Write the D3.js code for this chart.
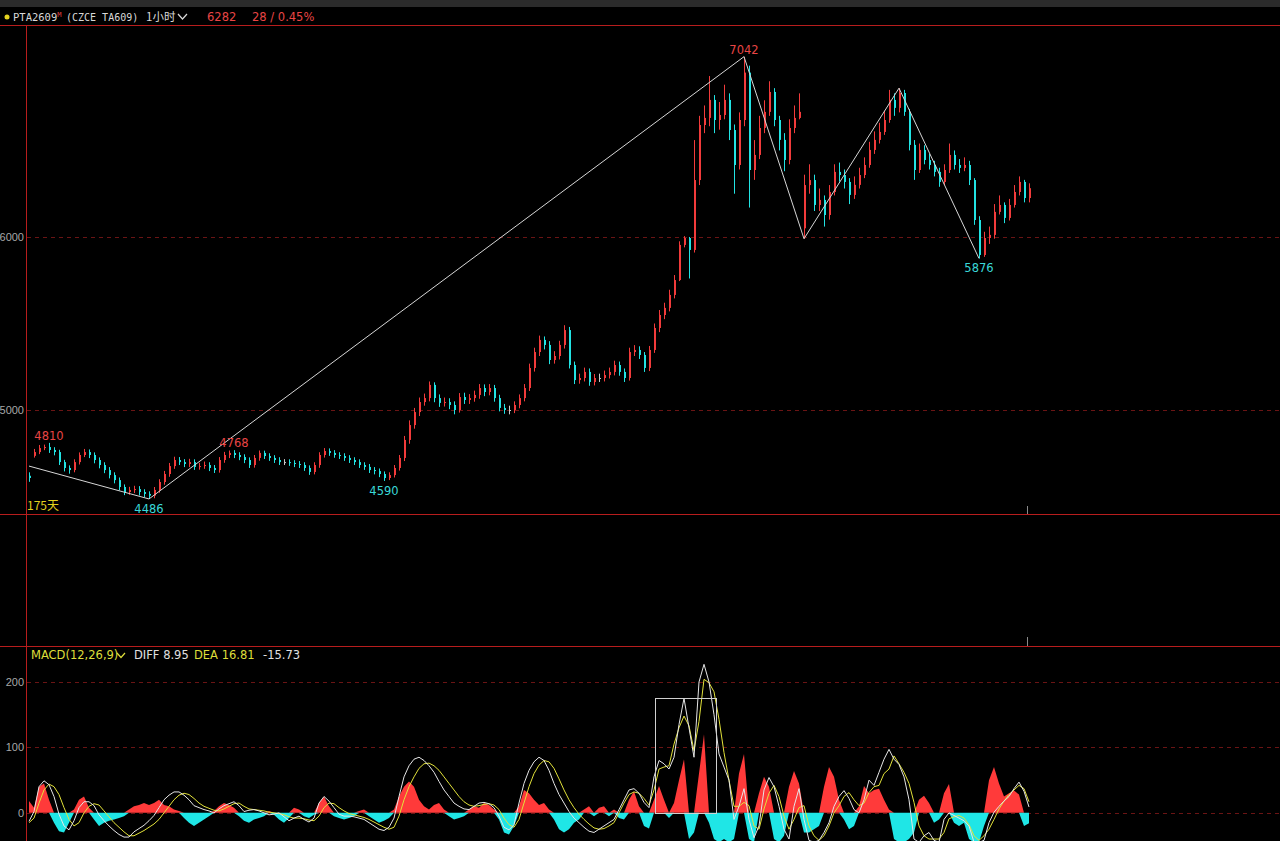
<!DOCTYPE html>
<html>
<head>
<meta charset="utf-8">
<script src="https://cdn.jsdelivr.net/npm/d3@7"></script>
<style>
html, body { margin: 0; padding: 0; background: #000; overflow: hidden; }
svg { display: block; }
</style>
</head>
<body>
<div id="chart"></div>
<script>
//hourly bars (one bar per ~5px slot)
const opens = [4620,4735,4757,4780,4786,4769,4757,4699,4665,4653,
	4699,4740,4757,4740,4711,4682,4653,4624,4595,4555,
	4526,4538,4543,4526,4515,4505,4538,4584,4630,4676,
	4711,4699,4688,4699,4671,4676,4682,4665,4653,4711,
	4740,4752,4740,4728,4711,4682,4723,4752,4734,4723,
	4711,4699,4699,4694,4688,4682,4665,4642,4682,4740,
	4763,4752,4740,4734,4723,4711,4699,4682,4671,4653,
	4647,4630,4607,4624,4665,4723,4827,4913,4988,5046,
	5069,5145,5069,5041,5046,5029,5000,5075,5058,5069,
	5087,5127,5104,5127,5069,5012,5000,5000,5029,5069,
	5127,5243,5335,5405,5376,5289,5312,5376,5462,5260,
	5173,5185,5220,5162,5185,5185,5202,5220,5260,5220,
	5185,5335,5347,5318,5243,5347,5474,5549,5590,5665,
	5751,5954,5994,5925,6329,6647,6688,6792,6676,6705,
	6792,6618,6416,6676,6950,6387,6474,6630,6723,6838,
	6676,6561,6445,6630,6688,6050,6300,6329,6185,6214,
	6127,6260,6376,6358,6318,6243,6301,6358,6416,6503,
	6561,6607,6676,6792,6746,6832,6723,6532,6387,6503,
	6445,6416,6376,6318,6387,6474,6416,6399,6416,6329,
	6098,5896,5994,6012,6145,6185,6110,6185,6260,6318,
	6225];

const highs = [4640,4775,4798,4800,4810,4785,4770,4712,4680,4715,
	4755,4775,4772,4755,4726,4698,4670,4640,4610,4570,
	4556,4562,4560,4542,4530,4555,4600,4648,4694,4730,
	4728,4716,4718,4715,4695,4702,4698,4682,4728,4758,
	4766,4768,4756,4744,4726,4740,4766,4765,4750,4739,
	4727,4716,4715,4710,4705,4698,4680,4698,4756,4780,
	4778,4768,4756,4750,4739,4727,4715,4698,4688,4670,
	4662,4645,4640,4682,4740,4850,4940,5012,5072,5095,
	5165,5160,5090,5072,5068,5050,5098,5100,5092,5112,
	5150,5148,5150,5145,5088,5035,5025,5050,5090,5150,
	5268,5360,5430,5425,5398,5340,5400,5490,5480,5280,
	5210,5245,5240,5208,5210,5228,5245,5285,5280,5240,
	5360,5375,5368,5335,5370,5500,5578,5620,5695,5780,
	5975,6005,6000,6560,6700,6760,6930,6820,6780,6880,
	6830,6650,6720,7042,6990,6560,6700,6790,6900,6860,
	6700,6600,6680,6760,6830,6360,6420,6360,6280,6240,
	6300,6420,6430,6390,6340,6350,6400,6460,6550,6610,
	6660,6730,6850,6830,6860,6850,6740,6560,6540,6530,
	6480,6440,6400,6420,6540,6500,6450,6460,6440,6340,
	6120,6030,6060,6190,6240,6200,6220,6300,6350,6330,
	6310];

const lows = [4585,4725,4745,4768,4752,4738,4682,4645,4632,4640,
	4685,4728,4722,4692,4663,4635,4605,4576,4536,4508,
	4510,4520,4506,4496,4486,4490,4522,4568,4614,4660,
	4682,4670,4670,4654,4655,4660,4647,4636,4638,4695,
	4722,4722,4710,4693,4665,4667,4707,4717,4706,4694,
	4682,4682,4677,4670,4665,4648,4625,4628,4666,4725,
	4735,4724,4717,4706,4694,4682,4665,4654,4636,4628,
	4612,4590,4595,4610,4650,4705,4805,4892,4965,5025,
	5050,5045,5018,5020,5005,4975,4985,5035,5035,5048,
	5065,5080,5085,5048,4992,4978,4975,4982,5010,5050,
	5110,5222,5312,5350,5265,5268,5292,5355,5240,5150,
	5152,5165,5140,5142,5162,5165,5182,5200,5198,5162,
	5170,5312,5295,5220,5225,5330,5450,5525,5570,5645,
	5745,5940,5760,5910,6300,6600,6640,6600,6620,6680,
	6560,6250,6390,6640,6170,6330,6450,6600,6700,6640,
	6500,6380,6420,6600,6680,5990,6250,6150,6150,6060,
	6100,6240,6320,6280,6190,6220,6280,6340,6400,6480,
	6540,6590,6660,6700,6720,6700,6500,6330,6370,6420,
	6390,6350,6290,6300,6370,6390,6370,6380,6300,6070,
	5876,5885,5960,5990,6130,6080,6095,6170,6240,6200,
	6200];

const closes = [4607,4757,4780,4786,4769,4757,4699,4665,4653,4699,
	4740,4757,4740,4711,4682,4653,4624,4595,4555,4526,
	4538,4543,4526,4515,4505,4538,4584,4630,4676,4711,
	4699,4688,4699,4671,4676,4682,4665,4653,4711,4740,
	4752,4740,4728,4711,4682,4723,4752,4734,4723,4711,
	4699,4699,4694,4688,4682,4665,4642,4682,4740,4763,
	4752,4740,4734,4723,4711,4699,4682,4671,4653,4647,
	4630,4607,4624,4665,4723,4827,4913,4988,5046,5069,
	5145,5069,5041,5046,5029,5000,5075,5058,5069,5087,
	5127,5104,5127,5069,5012,5000,5000,5029,5069,5127,
	5243,5335,5405,5376,5289,5312,5376,5462,5260,5173,
	5185,5220,5162,5185,5185,5202,5220,5260,5220,5185,
	5335,5347,5318,5243,5347,5474,5549,5590,5665,5751,
	5954,5994,5925,6329,6647,6688,6792,6676,6705,6792,
	6618,6416,6676,6950,6387,6474,6630,6723,6838,6676,
	6561,6445,6630,6688,6723,6300,6329,6185,6214,6127,
	6260,6376,6358,6318,6243,6301,6358,6416,6503,6561,
	6607,6676,6792,6746,6832,6723,6532,6387,6503,6445,
	6416,6376,6318,6387,6474,6416,6399,6416,6329,6098,
	5896,5994,6012,6145,6185,6110,6185,6260,6318,6225,
	6282];

//MACD(12,26,9) values
const macdHist = [18,8,40,45,20,-15,-28,-30,-15,5,
	20,25,8,-10,-20,-15,-12,-10,-8,-5,
	5,10,12,15,12,15,20,12,10,5,
	3,-8,-15,-20,-15,-10,-5,3,10,15,
	12,8,-5,-12,-15,-10,-8,-5,3,-3,
	-10,-15,-8,8,5,-5,-8,-3,15,25,
	10,-5,-8,-10,-8,-5,3,5,-5,-10,
	-15,-12,-8,5,25,40,48,40,20,10,
	5,12,15,5,-5,-10,-8,-5,5,10,
	8,15,12,5,-10,-30,-33,-20,10,35,
	30,20,12,15,5,-10,-25,-30,-25,-15,
	-10,5,10,-5,8,10,-5,5,-8,-10,
	20,33,10,-20,-24,20,41,20,-8,15,
	50,82,-40,-30,60,120,-15,-40,-45,-40,
	-45,-40,60,90,-40,-45,30,55,40,-40,
	-45,-35,40,64,45,-30,-30,-25,-20,40,
	70,55,20,-10,-25,-20,10,41,30,35,
	37,20,5,-40,-45,-45,-40,-30,20,26,
	15,-15,-10,30,44,-15,-20,-15,-40,-45,
	-45,-20,50,70,45,25,30,34,28,-20,
	-16];

const macdDiff = [-13,2,40,49,43,25,-2,-20,-26,-12,
	8,17,17,11,-3,-12,-20,-27,-33,-37,
	-37,-29,-24,-19,-12,-4,8,20,27,32,
	32,27,20,11,8,5,3,0,6,11,
	14,17,11,2,4,5,3,0,-3,-2,
	0,-6,-12,-8,-5,-10,-14,-8,15,25,
	18,8,-2,-5,-5,-6,-8,-10,-15,-20,
	-25,-27,-22,-8,25,55,72,82,85,80,
	72,62,48,35,25,15,10,6,5,10,
	15,16,14,8,-5,-22,-26,-18,15,45,
	65,78,85,80,65,45,28,15,2,-8,
	-15,-22,-28,-30,-25,-20,-15,-10,5,20,
	35,37,30,16,8,55,80,75,67,85,
	135,175,130,85,200,227,200,150,90,70,
	50,-10,10,37,-10,-38,-20,35,54,40,
	10,-25,-40,10,37,-10,-42,-45,-42,-30,
	-15,10,25,34,22,5,0,20,50,42,
	62,82,97,82,74,55,20,-40,-45,-35,
	-30,-42,-45,-10,0,-4,-8,-12,-20,-45,
	-45,-42,-15,1,10,18,25,37,47,33,
	9];

const macdDea = [-15,-8,15,35,44,40,28,8,-10,-20,
	-15,0,10,14,12,3,-6,-15,-22,-29,
	-35,-35,-31,-27,-22,-17,-10,0,10,20,
	27,30,28,22,15,10,7,4,3,6,
	10,14,15,10,6,5,4,3,1,0,
	-1,-3,-6,-8,-8,-9,-11,-12,-5,8,
	15,14,8,3,-1,-3,-5,-7,-10,-14,
	-18,-22,-25,-22,-5,20,40,55,68,75,
	76,72,65,55,45,35,25,17,12,10,
	11,13,14,12,5,-8,-18,-22,-10,15,
	40,60,73,80,78,68,52,35,20,8,
	-2,-10,-17,-23,-25,-24,-20,-15,0,15,
	28,32,30,22,12,35,67,70,72,105,
	130,148,133,95,140,204,199,185,143,92,
	50,10,10,16,11,-20,-25,6,30,42,
	25,-5,-25,-10,8,11,-20,-35,-42,-35,
	-20,0,11,25,31,20,11,15,31,40,
	42,60,67,87,75,62,45,16,-20,-35,
	-40,-40,-40,-30,-9,-6,-4,-8,-18,-35,
	-42,-35,-25,-10,6,18,28,35,42,37,
	17];

//zigzag turning points (bar index / price)
const zigzagIdx = [0, 24, 143, 155, 174, 190];
const zigzagPrice = [4676, 4486, 7042, 5990, 6860, 5876];

//marked extremes
const markIdx = [4, 24, 41, 71, 143, 190];
const markPrice = [4810, 4486, 4768, 4590, 7042, 5876];
const markKind = ["high", "low", "high", "low", "high", "low"];

//axis ticks
const priceTicks = [5000, 6000];
const macdTicks = [0, 100, 200];

//selection box on the MACD pane (bar range, top value)
const boxFrom = 125.2, boxTo = 137.4, boxTop = 176;

//header texts
const titleCode = "PTA2609";
const titleExch = "(CZCE TA609)";
const titlePeriod = "1小时";
const lastPrice = "6282";
const lastChange = "28 / 0.45%";
const macdLegend = ["MACD(12,26,9)", "DIFF 8.95", "DEA 16.81", "-15.73"];


function drawChart(){

	let width = 1280, height = 841;

	//colors
	const red = "#f23b3b", cyan = "#22e3e3", frame = "#b81d1d", grid = "#6a1414";

	let svg = d3.select("#chart")
		.append("svg")
		.attr("width", width)
		.attr("height", height);

	svg.append("rect").attr("width", width).attr("height", height).attr("fill", "#000");
	svg.append("rect").attr("width", width).attr("height", 7).attr("fill", "#2b2b2b");

	//panes
	let mainPane = {top: 25, bottom: 514};
	let macdPane = {top: 646, bottom: 841};
	let left = 27;

	//scales
	const xScale = d3.scaleLinear()
		.domain([0, closes.length - 1])
		.range([29, 1029]);

	const yPrice = d3.scaleLinear()
		.domain([4399, 7225])
		.range([mainPane.bottom, mainPane.top]);

	const yMacd = d3.scaleLinear()
		.domain([-43, 255])
		.range([macdPane.bottom, macdPane.top]);

	//clip paths
	let defs = svg.append("defs");
	defs.append("clipPath").attr("id", "clip-main")
		.append("rect").attr("x", left).attr("y", mainPane.top + 1)
		.attr("width", width - left).attr("height", mainPane.bottom - mainPane.top - 1);
	defs.append("clipPath").attr("id", "clip-macd")
		.append("rect").attr("x", left).attr("y", macdPane.top + 1)
		.attr("width", width - left).attr("height", macdPane.bottom - macdPane.top - 1);

	//grid lines
	svg.append("g").selectAll("line")
		.data(priceTicks)
		.enter().append("line")
		.attr("x1", left).attr("x2", width)
		.attr("y1", d => Math.round(yPrice(d)) + 0.5)
		.attr("y2", d => Math.round(yPrice(d)) + 0.5)
		.attr("stroke", grid).attr("stroke-dasharray", "4,4");

	svg.append("g").selectAll("line")
		.data(macdTicks)
		.enter().append("line")
		.attr("x1", left).attr("x2", width)
		.attr("y1", d => Math.round(yMacd(d)) + 0.5)
		.attr("y2", d => Math.round(yMacd(d)) + 0.5)
		.attr("stroke", grid).attr("stroke-dasharray", "4,4");

	//axes
	const yAxis = d3.axisLeft(yPrice).tickValues(priceTicks)
		.tickFormat(d3.format("d")).tickSize(0).tickPadding(2);
	const mAxis = d3.axisLeft(yMacd).tickValues(macdTicks)
		.tickFormat(d3.format("d")).tickSize(0).tickPadding(2);

	svg.append("g")
		.attr("class", "axis")
		.attr("transform", `translate(${left - 1},0)`)
		.call(yAxis);

	svg.append("g")
		.attr("class", "axis")
		.attr("transform", `translate(${left - 1},0)`)
		.call(mAxis);

	svg.selectAll(".axis .domain").remove();
	svg.selectAll(".axis text")
		.attr("fill", "#a8a8a8")
		.style("font-family", "Liberation Sans, Arial, sans-serif")
		.style("font-size", "11px");

	//candles
	let candles = svg.append("g").attr("clip-path", "url(#clip-main)");
	let bars = d3.range(closes.length);

	let candleColor = (i) => {
		if (closes[i] > opens[i]) return red;
		if (closes[i] < opens[i]) return cyan;
		return "#c8c8c8";
	};

	candles.selectAll(".wick")
		.data(bars)
		.enter().append("line")
		.attr("class", "wick")
		.attr("x1", i => Math.round(xScale(i)) + 0.5)
		.attr("x2", i => Math.round(xScale(i)) + 0.5)
		.attr("y1", i => yPrice(highs[i]))
		.attr("y2", i => yPrice(lows[i]))
		.attr("stroke", candleColor)
		.attr("stroke-width", 1);

	candles.selectAll(".body")
		.data(bars)
		.enter().append("rect")
		.attr("class", "body")
		.attr("x", i => Math.round(xScale(i)))
		.attr("width", 2)
		.attr("y", i => yPrice(Math.max(opens[i], closes[i])))
		.attr("height", i => Math.max(1, Math.abs(yPrice(opens[i]) - yPrice(closes[i]))))
		.attr("fill", candleColor);

	//zigzag
	const zigLine = d3.line()
		.x(d => xScale(d))
		.y((d, k) => yPrice(zigzagPrice[k]));

	candles.append("path")
		.attr("d", zigLine(zigzagIdx))
		.attr("fill", "none")
		.attr("stroke", "#d6d6d6")
		.attr("stroke-width", 1);

	//extreme labels
	svg.append("g").selectAll("text")
		.data(markIdx)
		.enter().append("text")
		.attr("x", d => xScale(d))
		.attr("y", (d, k) => markKind[k] === "high" ? yPrice(markPrice[k]) - 3 : yPrice(markPrice[k]) + 14)
		.attr("text-anchor", "middle")
		.attr("fill", (d, k) => markKind[k] === "high" ? "#e84545" : "#3ad8d8")
		.style("font-family", "DejaVu Sans, sans-serif")
		.style("font-size", "11.5px")
		.text((d, k) => markPrice[k]);

	svg.append("text")
		.attr("x", left).attr("y", 510)
		.attr("fill", "#e3d21e")
		.style("font-family", "Noto Sans CJK SC, sans-serif")
		.style("font-size", "12px")
		.text("175天");

	//MACD histogram as two areas
	let macdG = svg.append("g").attr("clip-path", "url(#clip-macd)");

	const upArea = d3.area()
		.x(i => xScale(i))
		.y0(yMacd(0))
		.y1(i => yMacd(Math.max(0, macdHist[i])));

	const downArea = d3.area()
		.x(i => xScale(i))
		.y0(yMacd(0))
		.y1(i => yMacd(Math.min(0, macdHist[i])));

	macdG.append("path").attr("d", upArea(bars)).attr("fill", "#ff3a3a");
	macdG.append("path").attr("d", downArea(bars)).attr("fill", "#1fe6e6");

	const diffLine = d3.line().x(i => xScale(i)).y(i => yMacd(macdDiff[i]));
	const deaLine = d3.line().x(i => xScale(i)).y(i => yMacd(macdDea[i]));

	macdG.append("path")
		.attr("d", deaLine(bars))
		.attr("fill", "none").attr("stroke", "#e2e23a").attr("stroke-width", 1);

	macdG.append("path")
		.attr("d", diffLine(bars))
		.attr("fill", "none").attr("stroke", "#e6e6e6").attr("stroke-width", 1);

	macdG.append("rect")
		.attr("x", Math.round(xScale(boxFrom)) + 0.5)
		.attr("y", Math.round(yMacd(boxTop)) + 0.5)
		.attr("width", Math.round(xScale(boxTo) - xScale(boxFrom)))
		.attr("height", Math.round(yMacd(0) - yMacd(boxTop)))
		.attr("fill", "none").attr("stroke", "#d0d0d0").attr("stroke-width", 1);

	//frame lines
	[mainPane.top, mainPane.bottom, macdPane.top].forEach(y => {
		svg.append("line")
			.attr("x1", 0).attr("x2", width)
			.attr("y1", y + 0.5).attr("y2", y + 0.5)
			.attr("stroke", frame);
	});
	svg.append("line")
		.attr("x1", left - 0.5).attr("x2", left - 0.5)
		.attr("y1", mainPane.top).attr("y2", height)
		.attr("stroke", frame);

	//cursor ticks at last bar
	let lastX = Math.round(xScale(closes.length - 1)) - 1.5;
	[[506, 514], [637, 646]].forEach(r => {
		svg.append("line")
			.attr("x1", lastX).attr("x2", lastX)
			.attr("y1", r[0]).attr("y2", r[1])
			.attr("stroke", "#8a8a8a");
	});

	//header
	svg.append("circle").attr("cx", 7).attr("cy", 17).attr("r", 2.5).attr("fill", "#e5d31f");

	let head = svg.append("text").attr("y", 21)
		.style("font-family", "DejaVu Sans Mono, monospace")
		.style("font-size", "10.5px");
	head.append("tspan").attr("x", 13).attr("fill", "#d8d8d8").text(titleCode);
	head.append("tspan").attr("dy", -4).attr("fill", "#e04040").style("font-size", "7px").text("M");
	head.append("tspan").attr("x", 66).attr("dy", 4).attr("fill", "#d8d8d8").style("font-size", "10px").text(titleExch);

	svg.append("text").attr("x", 146).attr("y", 21)
		.attr("fill", "#d8d8d8")
		.style("font-family", "Noto Sans CJK SC, sans-serif")
		.style("font-size", "11.5px")
		.text(titlePeriod);

	svg.append("path")
		.attr("d", "M178,14 L182.5,19 L187,14")
		.attr("fill", "none").attr("stroke", "#d8d8d8").attr("stroke-width", 1.2);

	svg.append("text").attr("x", 207).attr("y", 21)
		.attr("fill", "#e84545")
		.style("font-family", "DejaVu Sans, sans-serif")
		.style("font-size", "11.5px")
		.text(lastPrice);

	svg.append("text").attr("x", 252).attr("y", 21)
		.attr("fill", "#e84545")
		.style("font-family", "DejaVu Sans, sans-serif")
		.style("font-size", "11.5px")
		.text(lastChange);

	//MACD legend
	let legend = svg.append("text").attr("y", 659)
		.style("font-family", "DejaVu Sans, sans-serif")
		.style("font-size", "11.5px");
	legend.append("tspan").attr("x", 31).attr("fill", "#dede3a").text(macdLegend[0]);
	legend.append("tspan").attr("x", 134).attr("fill", "#e0e0e0").text(macdLegend[1]);
	legend.append("tspan").attr("x", 194).attr("fill", "#dede3a").text(macdLegend[2]);
	legend.append("tspan").attr("x", 263).attr("fill", "#e0e0e0").text(macdLegend[3]);

	svg.append("path")
		.attr("d", "M117,653 L121,657.5 L125,653")
		.attr("fill", "none").attr("stroke", "#dede3a").attr("stroke-width", 1.2);

} //function drawChart

drawChart();
</script>
</body>
</html>
